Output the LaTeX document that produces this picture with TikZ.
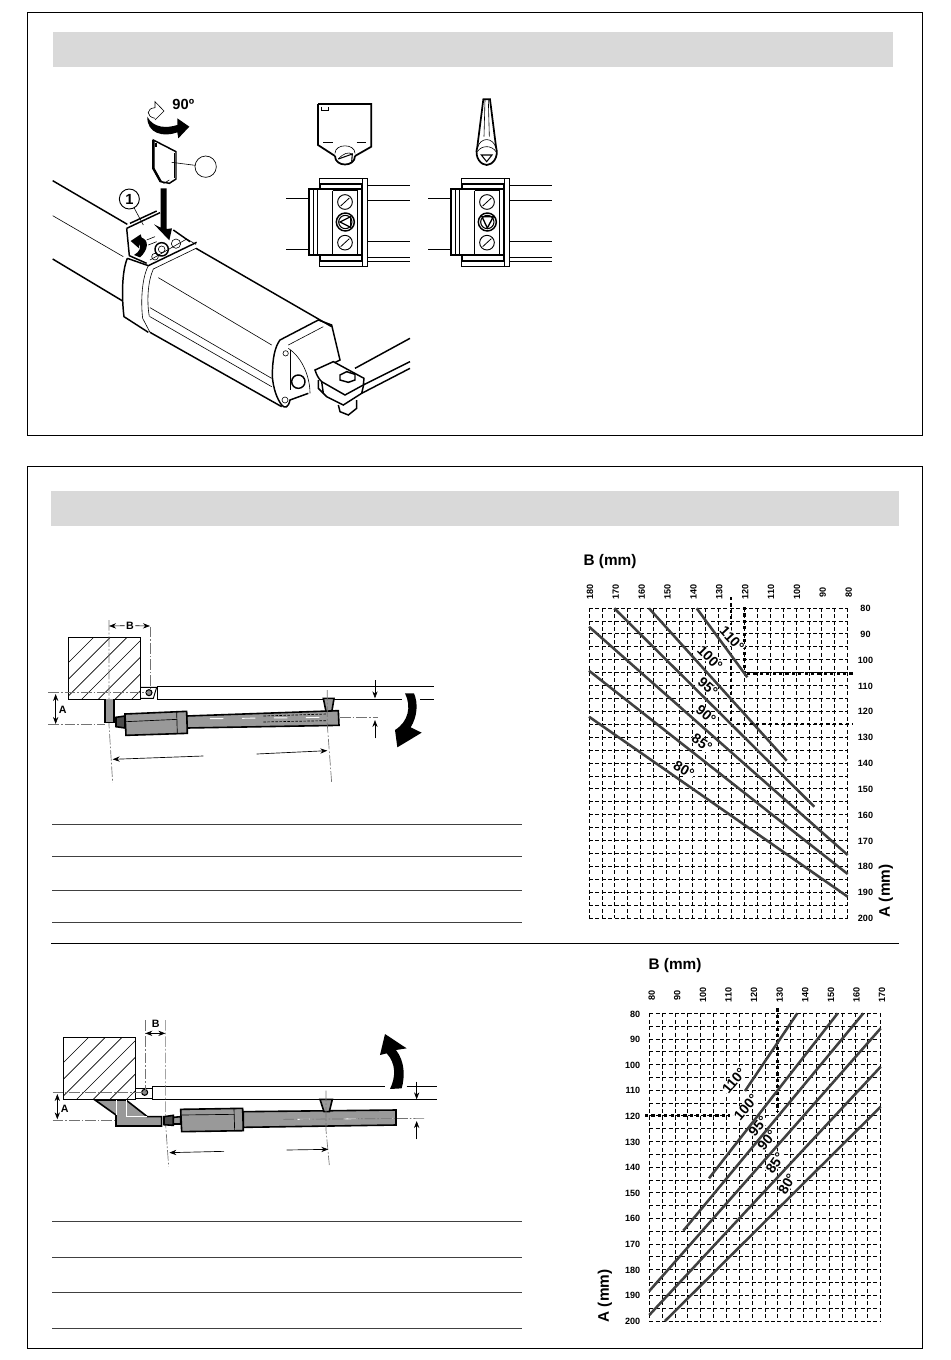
\documentclass[tikz,border=0pt]{standalone}
\usepackage{fontspec}
\setmainfont{Liberation Sans}
\usetikzlibrary{arrows.meta}
\definecolor{barfill}{gray}{0.85}
\definecolor{bodyfill}{gray}{0.6}
\definecolor{axisgray}{gray}{0.45}
\tikzset{
  >=Stealth,
  panel/.style={draw,line width=.7pt},
  headbar/.style={fill=barfill},
  tablerule/.style={draw=black!75,line width=.6pt},
  gridline/.style={line width=.6pt,dash pattern=on 3pt off 1.8pt},
  chartline/.style={draw=black!75,line width=1.9pt},
  readoff/.style={line width=2.1pt,dash pattern=on 2.4pt off 2.4pt},
  ticklabel/.style={font=\fontsize{6.8}{7}\bfseries\selectfont,inner sep=0pt},
  titlelabel/.style={font=\fontsize{11.5}{12}\bfseries\selectfont,inner sep=0pt},
  anglelabel/.style={font=\fontsize{10.5}{11}\bfseries\selectfont,inner sep=.3pt,fill=white},
  dimlabel/.style={font=\fontsize{8}{9}\bfseries\selectfont,inner sep=1pt},
  centerline/.style={draw=axisgray,line width=.5pt,dash pattern=on 8pt off 1.5pt on 1.2pt off 1.5pt},
  dimline/.style={line width=.5pt,->},
  wallbox/.style={draw,line width=.7pt},
  device/.style={draw,line width=1.2pt,fill=bodyfill},
  thinline/.style={line width=.45pt},
  heavyline/.style={line width=1.1pt},
  mark3/.style={shift={(#1)},scale=.33333}
}
\begin{document}
\begin{tikzpicture}[x=.75pt,y=-.75pt]
\useasboundingbox (0,0) rectangle (950,1360);

% frames
\draw[panel] (27,12) rectangle (922,435);
\draw[panel] (27,466) rectangle (922,1348);
\fill[headbar] (53,32) rectangle (893,67);
\fill[headbar] (51,491) rectangle (899,526);
\draw[thinline] (51,943) -- (899,943);

% tables
\foreach \ry in {824,856,890,922,1221,1257,1292,1328}
  \draw[tablerule] (52,\ry) -- (522,\ry);

% actuator, top panel
\begin{scope}[mark3={40,85}]
  \draw[heavyline] (38,287) -- (262,418);
  \draw[thinline] (38,392) -- (250,515);
  \draw[heavyline] (38,522) -- (248,648);
  % housing
  \draw[heavyline] (468,490) -- (875,725);
  \draw[heavyline] (330,742) -- (725,965);
  \draw[thinline] (355,578) -- (695,780);
  \draw[thinline] (330,668) -- (695,880);
  \draw[thinline] (330,695) -- (695,905);
  % collar
  \draw[heavyline] (262,520) .. controls (245,560) and (245,640) .. (252,695) -- (325,742);
  \draw[heavyline] (262,520) -- (325,542) -- (470,472);
  \draw[thinline] (325,542) .. controls (303,585) and (303,660) .. (308,700) -- (330,742);
  \draw[thinline] (340,552) .. controls (323,590) and (320,650) .. (328,695);
  \draw[thinline] (340,552) -- (468,490);
  % end cap
  \draw[heavyline] (835,705) -- (720,765) .. controls (705,785) and (697,820) .. (697,875) .. controls (700,910) and (710,940) .. (725,960) .. controls (735,972) and (745,968) .. (750,945) -- (805,925);
  \draw[heavyline] (835,705) -- (875,720) -- (900,825) -- (880,835);
  \draw[thinline] (745,780) -- (850,725);
  \draw[thinline] (745,790) .. controls (790,820) and (810,880) .. (810,925);
  \draw[thinline] (750,795) -- (750,915);
  \draw[heavyline] (775,890) circle (20);
  \draw[thinline] (737,805) circle (8);
  \draw[thinline] (735,945) circle (9);
  % arm and clevis
  \draw[heavyline] (945,850) -- (1110,760);
  \draw[heavyline] (970,900) -- (1110,830);
  \draw[heavyline] (965,925) -- (1110,850);
  \draw[heavyline] (835,885) -- (835,910) -- (860,935) -- (910,960) -- (965,925) -- (972,895);
  \draw[heavyline] (845,890) -- (850,925);
  \draw[heavyline,fill=white] (825,855) -- (880,830) -- (972,880) -- (970,900) -- (915,930) -- (845,890) .. controls (835,880) and (830,870) .. (825,855) -- cycle;
  \draw[heavyline] (895,960) -- (900,980) -- (925,990) -- (950,970) -- (950,945);
  \draw[heavyline,fill=white] (900,870) -- (920,860) -- (945,868) -- (945,885) -- (925,892) -- (900,885) -- cycle;
  % flap and screws
  \draw[heavyline] (260,430) -- (360,383);
  \draw[heavyline] (270,415) -- (350,378);
  \draw[heavyline] (260,430) -- (268,512) -- (320,535);
  \draw[thinline] (320,465) -- (345,455) (325,480) -- (350,470);
  \draw[thinline] (330,525) -- (440,462) -- (468,478);
  \draw[heavyline] (400,435) -- (450,470);
  \draw[thinline] (345,515) circle (10);
  \draw[heavyline] (365,493) circle (20);
  \draw[thinline] (365,493) circle (10);
  \draw[thinline] (408,476) circle (14);
  % opening arrow
  \fill (300,517) .. controls (325,495) and (328,465) .. (305,458) -- (302,448) -- (272,468) -- (297,490) -- (297,476) .. controls (305,485) and (300,500) .. (282,510) -- cycle;
  % key
  \draw[heavyline] (340,165) -- (408,200) -- (408,282) -- (388,295) -- (362,290) -- (340,250) -- cycle;
  \draw[line width=1.8pt] (340,165) -- (340,250) -- (362,290);
  \draw[thinline] (402,205) -- (402,280);
  \fill (345,175) rectangle (352,185);
  \draw[thinline] (360,285) -- (372,295) -- (388,285);
  % arrow into the slot
  \fill (362,310) -- (380,310) -- (380,432) -- (396,430) -- (388,466) -- (342,418) -- (362,428) -- cycle;
  % turn arrow
  \draw[thinline] (345,100) .. controls (318,95) and (318,70) .. (345,68) -- (345,50) -- (372,78) -- (345,105);
  \fill (322,95) .. controls (340,130) and (380,130) .. (412,120) -- (412,100) -- (448,125) -- (415,160) -- (412,142) .. controls (370,158) and (320,145) .. (322,95) -- cycle;
  \node[inner sep=0pt,font=\fontsize{11}{12}\bfseries\selectfont] (turnlabel) at (430,58) {90º};
  \node[circle,draw,line width=.5pt,minimum size=16pt,inner sep=0pt] (keytag) at (497,245) {};
  \coordinate (keypoint) at (395,232);
  \draw[thinline] (keytag) -- (keypoint);
  \node[circle,draw,line width=.7pt,minimum size=15pt,inner sep=0pt,font=\fontsize{11}{12}\bfseries\selectfont] (flaptag) at (268,342) {1};
  \coordinate (flappoint) at (310,420);
  \draw[thinline] (flaptag) -- (flappoint);
\end{scope}

% key views and terminal blocks
\begin{scope}[mark3={280,90}]
  \draw[line width=1.3pt] (114,42) -- (274,42) -- (274,170) -- (225,198);
  \draw[line width=1.3pt] (114,42) -- (114,165) -- (165,198);
  \draw[line width=1.3pt] (165,198) .. controls (165,232) and (225,232) .. (225,198);
  \draw[thinline] (125,50) -- (125,60) -- (145,60) -- (145,50);
  \draw[thinline] (130,158) -- (158,158) (230,158) -- (258,158);
  \draw[thinline] (165,190) .. controls (165,160) and (225,160) .. (225,190);
  \draw[line width=.8pt] (175,207) -- (217,192) -- (215,215);
  \draw[thinline] (175,207) .. controls (190,190) and (205,185) .. (217,192);
  \draw[line width=1.3pt] (610,28) -- (630,28) -- (648,170) .. controls (658,205) and (635,225) .. (620,225) .. controls (605,225) and (582,205) .. (592,170) -- cycle;
  \draw[thinline] (615,30) -- (612,140) (625,30) -- (628,140);
  \draw[thinline] (592,175) .. controls (600,140) and (640,140) .. (648,175);
  \draw[thinline] (592,185) .. controls (605,165) and (635,165) .. (648,185);
  \draw[line width=.8pt] (604,195) -- (636,195) -- (620,215) -- cycle;
  \foreach \bx in {0,426} {
    \draw[line width=.6pt] (\bx+118,265) rectangle (\bx+262,530);
    \draw[line width=.6pt] (\bx+247,265) -- (\bx+247,530);
    \draw[line width=1.4pt] (\bx+120,298) -- (\bx+120,282) -- (\bx+245,282) -- (\bx+245,298);
    \draw[line width=1.4pt] (\bx+120,495) -- (\bx+120,513) -- (\bx+245,513) -- (\bx+245,495);
    \draw[line width=1.4pt,fill=white] (\bx+88,298) rectangle (\bx+247,495);
    \draw[thinline] (\bx+100,298) -- (\bx+100,495);
    \draw[thinline] (\bx+112,298) -- (\bx+112,495);
    \draw[thinline] (\bx+158,302) -- (\bx+158,495) (\bx+158,302) -- (\bx+232,302);
    \draw[line width=1.2pt] (\bx+232,298) -- (\bx+232,495);
    \draw[line width=.7pt] (\bx+195,336) circle (22);
    \draw[line width=.7pt] (\bx+195,458) circle (22);
    \draw[line width=.6pt] (\bx+182,348) -- (\bx+208,324) (\bx+182,470) -- (\bx+208,446);
    \draw[line width=1.1pt] (\bx+196,396) circle (27);
    \draw[line width=.8pt] (\bx+196,396) circle (20);
    \draw[thinline] (\bx+18,325) -- (\bx+88,325) (\bx+18,478) -- (\bx+88,478);
    \foreach \ry in {287,331,454,501,513}
      \draw[thinline] (\bx+262,\ry) -- (\bx+390,\ry);
  }
  \draw[line width=1pt] (180,396) -- (212,380) -- (212,412) -- cycle;
  \draw[line width=1pt] (606,380) -- (640,380) -- (622,414) -- cycle;
\end{scope}

% lower panel, first mounting
\begin{scope}[mark3={40,610}]
  \begin{scope}
    \clip (85,82) rectangle (302,268);
    \foreach \hx in {-25,25,...,500}
      \draw[line width=.5pt] (\hx,268) -- ++(220,-220);
  \end{scope}
  \draw[wallbox] (85,82) rectangle (302,268);
  \draw[line width=.7pt] (1182,229) -- (352,229) -- (352,268) -- (1085,268);
  \draw[line width=.7pt] (1140,268) -- (1182,268);
  \draw[line width=.7pt] (302,232) -- (350,232) -- (340,265) -- (302,265);
  \draw[line width=.8pt,fill=black!45] (327,248) circle (9);
  % axes
  \draw[centerline] (25,248) -- (320,248);
  \draw[centerline] (25,344) -- (195,344);
  \draw[centerline] (207,30) -- (207,345) -- (218,518);
  \draw[draw=black,centerline] (330,50) -- (330,235);
  \node[dimlabel] (lowerb) at (270,47) {B};
  \draw[dimline] (lowerb) -- (207,48);
  \draw[dimline] (lowerb) -- (330,48);
  \node[dimlabel] (lowera) at (68,298) {A};
  \draw[line width=.5pt,<->] (47,252) -- (47,342);
  % device
  \draw[device] (195,268) -- (195,338) -- (222,338) -- (222,268);
  \draw[device,fill=black!70] (228,322) -- (255,318) -- (255,354) -- (228,350) -- cycle;
  \draw[device] (440,318) -- (895,302) -- (897,346) -- (440,354) -- cycle;
  \draw[device] (255,312) -- (440,304) -- (442,370) -- (258,376) -- cycle;
  \draw[line width=.5pt] (410,306) -- (412,372) (258,335) -- (412,328);
  \draw[device] (850,265) -- (882,265) -- (876,302) -- (858,304) -- cycle;
  \draw[white,line width=.7pt,dash pattern=on 10pt off 14pt] (510,326) -- (860,322);
  \draw[black,line width=.5pt,dash pattern=on 2pt off 1pt] (670,318) -- (860,312) (670,336) -- (860,332);
  % right side
  \coordinate (gatea) at (1005,265);
  \coordinate (gateb) at (1005,210);
  \draw[dimline] (gateb) -- (gatea);
  \coordinate (rodend) at (1005,330);
  \coordinate (rodtail) at (1005,385);
  \draw[dimline] (rodtail) -- (rodend);
  \draw[centerline] (900,322) -- (1015,322);
  \draw[centerline] (862,240) -- (862,345) -- (875,518);
  \coordinate (leftstart) at (490,438);
  \coordinate (leftend) at (218,448);
  \draw[dimline] (leftstart) -- (leftend);
  \coordinate (rightstart) at (650,432);
  \coordinate (rightend) at (862,422);
  \draw[dimline] (rightstart) -- (rightend);
  \fill (1095,250) .. controls (1115,290) and (1105,335) .. (1065,360) -- (1072,412) -- (1145,368) -- (1112,352) .. controls (1132,320) and (1135,280) .. (1122,250) -- cycle;
\end{scope}

% lower panel, second mounting
\begin{scope}[mark3={40,1020}]
  \begin{scope}
    \clip (70,52) rectangle (287,238);
    \foreach \hx in {-40,10,...,500}
      \draw[line width=.5pt] (\hx,238) -- ++(220,-220);
  \end{scope}
  \draw[wallbox] (70,52) rectangle (287,238);
  \draw[line width=.7pt] (1035,199) -- (337,199) -- (337,238) -- (1190,238);
  \draw[line width=.7pt] (1100,199) -- (1190,199);
  \draw[line width=.7pt] (287,205) -- (337,205) (287,235) -- (337,235);
  \draw[line width=.8pt,fill=black!45] (314,217) circle (9);
  % axes
  \draw[centerline] (38,218) -- (310,218);
  \draw[centerline] (38,300) -- (230,300);
  \draw[centerline] (316,0) -- (316,215);
  \draw[draw=black,centerline] (376,0) -- (376,300) -- (386,440);
  \node[dimlabel] (upperb) at (347,10) {B};
  \coordinate (bleft) at (316,40);
  \coordinate (bright) at (376,40);
  \draw[line width=.5pt,<->] (bleft) -- (bright);
  \node[dimlabel] (uppera) at (74,265) {A};
  \draw[line width=.5pt,<->] (52,222) -- (52,298);
  % device
  \draw[device] (165,240) -- (228,285) -- (228,318) -- (365,318) -- (365,290) -- (322,290) -- (258,240) -- cycle;
  \draw[line width=.7pt,white] (230,240) -- (230,285) (258,240) -- (258,290) -- (322,290);
  \draw[device,fill=black!70] (372,290) -- (400,286) -- (400,316) -- (372,314) -- cycle;
  \draw[device] (400,292) -- (422,290) -- (422,312) -- (400,312) -- cycle;
  \draw[device] (610,275) -- (1068,270) -- (1068,315) -- (610,322) -- cycle;
  \draw[device] (422,268) -- (608,265) -- (610,332) -- (425,335) -- cycle;
  \draw[line width=.5pt] (582,266) -- (584,332) (424,285) -- (582,283);
  \draw[device] (840,238) -- (877,238) -- (868,275) -- (852,275) -- cycle;
  \draw[white,line width=.7pt,dash pattern=on 10pt off 26pt] (770,298) -- (1060,295);
  % right side
  \coordinate (gatec) at (1130,238);
  \coordinate (gated) at (1130,185);
  \draw[dimline] (gated) -- (gatec);
  \coordinate (rodtop) at (1130,303);
  \coordinate (rodfoot) at (1130,358);
  \draw[dimline] (rodfoot) -- (rodtop);
  \draw[centerline] (730,298) -- (1155,295);
  \draw[centerline] (858,212) -- (858,330) -- (868,435);
  \coordinate (lowstart) at (552,394);
  \coordinate (lowend) at (388,398);
  \draw[dimline] (lowstart) -- (lowend);
  \coordinate (lowa) at (740,390);
  \coordinate (lowb) at (865,388);
  \draw[dimline] (lowa) -- (lowb);
  \fill (1050,207) .. controls (1068,170) and (1068,130) .. (1040,100) -- (1020,105) -- (1035,42) -- (1100,85) -- (1068,90) .. controls (1095,125) and (1095,170) .. (1085,205) -- cycle;
\end{scope}

% chart with B falling
\foreach \gi in {0,...,20}
  \draw[gridline] ({589+\gi*12.935},608) -- ({589+\gi*12.935},918);
\foreach \gi in {0,...,24}
  \draw[gridline] (589,{608+\gi*12.917}) -- (847.7,{608+\gi*12.917});
\foreach \ti [evaluate=\ti as \tb using int(180-10*\ti)] in {0,...,10}
  \node[ticklabel,rotate=90] (fallb\ti) at ({590+\ti*25.87},592) {\tb};
\foreach \ti [evaluate=\ti as \ta using int(80+10*\ti)] in {0,...,12}
  \node[ticklabel] (falla\ti) at (865.5,{608.5+\ti*25.83}) {\ta};
\node[titlelabel] (fallbtitle) at (610,562) {B (mm)};
\node[titlelabel,rotate=90] (fallatitle) at (886,891) {A (mm)};
\draw[readoff] (731,597) -- (731,625);
\draw[readoff] (731,660) -- (731,723);
\draw[readoff] (744.3,607) -- (744.3,675);
\node[anglelabel,rotate=-47] (fall110) at (732,639) {110°};
\node[anglelabel,rotate=-45] (fall100) at (710,658) {100°};
\node[anglelabel,rotate=-42] (fall95) at (708,687) {95°};
\node[anglelabel,rotate=-40] (fall90) at (706,715) {90°};
\node[anglelabel,rotate=-35] (fall85) at (702,743) {85°};
\node[anglelabel,rotate=-30] (fall80) at (684,770) {80°};
\draw[chartline] (696.7,608.3) -- (747.3,677.3);
\draw[chartline] (649,608.3) -- (786.7,760.7);
\draw[chartline] (614.3,608.3) -- (814.3,806.7);
\draw[chartline] (589,626.7) -- (847.7,855);
\draw[chartline] (589,670.7) -- (847.7,874);
\draw[chartline] (589,716.7) -- (847.7,896.7);
\draw[readoff] (747,673.7) -- (853,673.7);
\draw[readoff] (736.7,724) -- (853,724);

% chart with B rising
\foreach \gi in {0,...,18}
  \draw[gridline] ({649.3+\gi*12.855},1013.3) -- ({649.3+\gi*12.855},1321);
\foreach \gi in {0,...,24}
  \draw[gridline] (649.3,{1013.3+\gi*12.82}) -- (880.7,{1013.3+\gi*12.82});
\foreach \ti [evaluate=\ti as \tb using int(80+10*\ti)] in {0,...,9}
  \node[ticklabel,rotate=90] (riseb\ti) at ({651.7+\ti*25.6},995) {\tb};
\foreach \ti [evaluate=\ti as \ta using int(80+10*\ti)] in {0,...,12}
  \node[ticklabel,anchor=east] (risea\ti) at (640.5,{1014+\ti*25.6}) {\ta};
\node[titlelabel] (risebtitle) at (675,966) {B (mm)};
\node[titlelabel,rotate=90] (riseatitle) at (605,1296) {A (mm)};
\draw[readoff] (777.7,1008.3) -- (777.7,1111.7);
\draw[readoff] (645,1115.3) -- (730,1115.3);
\node[anglelabel,rotate=50] (rise110) at (734,1081) {110°};
\node[anglelabel,rotate=50] (rise100) at (746,1107) {100°};
\node[anglelabel,rotate=50] (rise95) at (758,1126) {95°};
\node[anglelabel,rotate=50] (rise90) at (767,1140) {90°};
\node[anglelabel,rotate=55] (rise85) at (775,1163) {85°};
\node[anglelabel,rotate=60] (rise80) at (787,1184) {80°};
\draw[chartline] (745,1091) -- (797.3,1013.3);
\draw[chartline] (709,1178.3) -- (837.7,1013.3);
\draw[chartline] (683.3,1230.7) -- (863.3,1013.3);
\draw[chartline] (649.3,1291) -- (880.7,1028.3);
\draw[chartline] (649.3,1315) -- (880.7,1066.7);
\draw[chartline] (665,1321) -- (880.7,1106.7);
\end{tikzpicture}
\end{document}
